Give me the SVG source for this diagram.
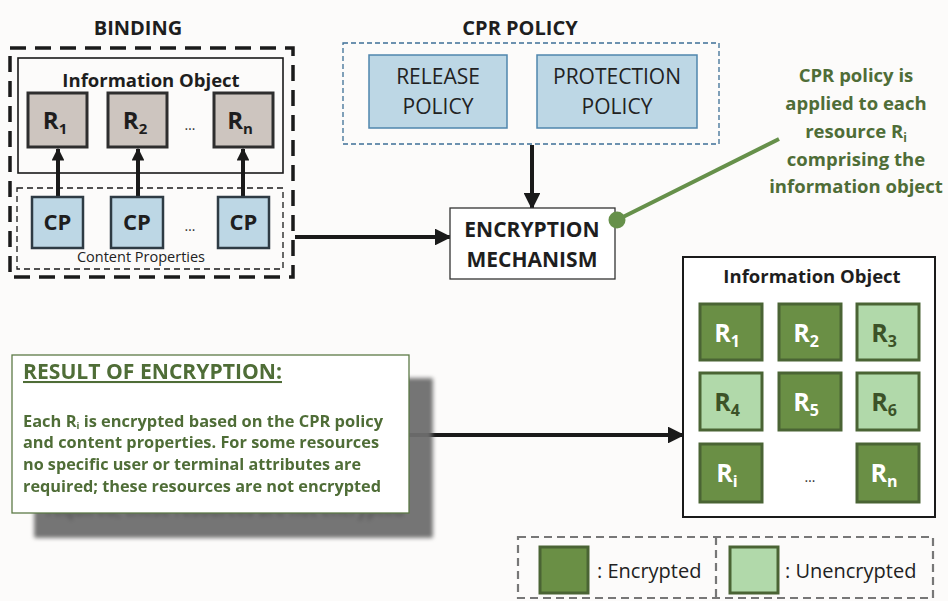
<svg xmlns="http://www.w3.org/2000/svg" width="948" height="601" viewBox="0 0 948 601">
  <defs>
    <style>
      text { font-family: "Open Sans", "Liberation Sans", sans-serif; }
      .title { font-size: 20px; font-weight: bold; fill: #1e1e1e; text-anchor: middle; }
      .io-title { font-size: 18.5px; font-weight: bold; fill: #1e1e1e; text-anchor: middle; }
      .res { fill: #cdc5bf; stroke: #2e2e2e; stroke-width: 3; }
      .res-t { font-size: 24px; font-weight: bold; fill: #1e1e1e; text-anchor: middle; }
      .cp { fill: #bdd7e5; stroke: #2e3b44; stroke-width: 2.5; }
      .cp-t { font-size: 22px; font-weight: bold; fill: #1e1e1e; text-anchor: middle; }
      .pol { fill: #bdd7e5; stroke: #4f86ad; stroke-width: 1.5; }
      .pol-t { font-size: 21px; fill: #222; text-anchor: middle; }
      .enc { fill: #6a8f45; stroke: #4a6434; stroke-width: 3; }
      .unenc { fill: #b1d9aa; stroke: #4a6434; stroke-width: 3; }
      .enc-t { font-size: 25px; font-weight: bold; fill: #ffffff; text-anchor: middle; }
      .unenc-t { font-size: 25px; font-weight: bold; fill: #3c5228; text-anchor: middle; }
      .green { fill: #4f6d37; font-weight: bold; }
      .dots { font-size: 14px; fill: #333; text-anchor: middle; }
      .conn { stroke: #1a1a1a; stroke-width: 4; fill: none; }
      .legend-t { font-size: 20px; fill: #222; }
    </style>
    <marker id="head" viewBox="0 0 10 10" refX="9" refY="5" markerWidth="4.2" markerHeight="4.2" orient="auto" markerUnits="strokeWidth">
      <path d="M0,0 L10,5 L0,10 z" fill="#1a1a1a"/>
    </marker>
    <marker id="headS" viewBox="0 0 10 10" refX="9" refY="5" markerWidth="3.2" markerHeight="3.2" orient="auto" markerUnits="strokeWidth">
      <path d="M0,0 L10,5 L0,10 z" fill="#1a1a1a"/>
    </marker>
    <!-- greyed, offset, softened copy of the result panel used as its shadow -->
    <filter id="panelShadow" x="-10%" y="-10%" width="130%" height="140%" color-interpolation-filters="sRGB">
      <feColorMatrix in="SourceGraphic" type="matrix" values="0.06 0.06 0.06 0 0.25  0.06 0.06 0.06 0 0.25  0.06 0.06 0.06 0 0.25  0 0 0 0.95 0" result="grey"/>
      <feOffset in="grey" dx="23" dy="24" result="off"/>
      <feGaussianBlur in="off" stdDeviation="2.2" result="blur"/>
      <feMerge>
        <feMergeNode in="blur"/>
        <feMergeNode in="SourceGraphic"/>
      </feMerge>
    </filter>
  </defs>

  <rect width="948" height="601" fill="#fcfbfa"/>

  <!-- connectors -->
  <g id="connectors">
    <line class="conn" x1="58" y1="197" x2="58" y2="149" marker-end="url(#headS)"/>
    <line class="conn" x1="138" y1="197" x2="138" y2="149" marker-end="url(#headS)"/>
    <line class="conn" x1="243" y1="197" x2="243" y2="149" marker-end="url(#headS)"/>
    <line class="conn" x1="295" y1="237" x2="450" y2="237" marker-end="url(#head)"/>
    <line class="conn" x1="532" y1="145" x2="532" y2="208" marker-end="url(#head)"/>
    <line class="conn" x1="400" y1="435" x2="683" y2="435" marker-end="url(#head)"/>
  </g>

  <!-- binding: information object with its content properties -->
  <g id="binding">
    <text class="title" x="138" y="35">BINDING</text>
    <rect x="10" y="48" width="283" height="229" fill="none" stroke="#1a1a1a" stroke-width="3.5" stroke-dasharray="16 9"/>
    <rect x="18" y="58" width="265" height="115" fill="none" stroke="#1a1a1a" stroke-width="1.6"/>
    <text class="io-title" x="151" y="87">Information Object</text>
    <rect x="17" y="188" width="266" height="81" fill="none" stroke="#1a1a1a" stroke-width="1.3" stroke-dasharray="6 4"/>
    <text x="141" y="262" font-size="14.5" fill="#222" text-anchor="middle">Content Properties</text>
  </g>
  <g id="r1"><rect class="res" x="28" y="93" width="59" height="54"/><text class="res-t" x="55" y="129">R<tspan font-size="15" dy="5">1</tspan></text></g>
  <g id="r2"><rect class="res" x="108" y="93" width="59" height="54"/><text class="res-t" x="135" y="129">R<tspan font-size="15" dy="5">2</tspan></text></g>
  <text class="dots" x="190" y="130">…</text>
  <g id="rn"><rect class="res" x="214" y="93" width="59" height="54"/><text class="res-t" x="240" y="129">R<tspan font-size="15" dy="5">n</tspan></text></g>
  <g id="cp1"><rect class="cp" x="32" y="197" width="51" height="51"/><text class="cp-t" x="57.5" y="230">CP</text></g>
  <g id="cp2"><rect class="cp" x="111" y="197" width="52" height="51"/><text class="cp-t" x="137" y="230">CP</text></g>
  <text class="dots" x="190" y="231">…</text>
  <g id="cp3"><rect class="cp" x="218" y="197" width="51" height="51"/><text class="cp-t" x="243.5" y="230">CP</text></g>

  <!-- CPR policy -->
  <g id="cpr-policy">
    <text class="title" x="520" y="35">CPR POLICY</text>
    <rect x="343" y="43" width="376" height="101" fill="none" stroke="#3d6f96" stroke-width="1.3" stroke-dasharray="5 3"/>
  </g>
  <g id="release-policy">
    <rect class="pol" x="369" y="55" width="138" height="73"/>
    <text class="pol-t" x="438" y="84">RELEASE</text>
    <text class="pol-t" x="438" y="114">POLICY</text>
  </g>
  <g id="protection-policy">
    <rect class="pol" x="537" y="55" width="160" height="73"/>
    <text class="pol-t" x="617" y="84">PROTECTION</text>
    <text class="pol-t" x="617" y="114">POLICY</text>
  </g>

  <!-- encryption mechanism -->
  <g id="encryption-mechanism">
    <rect x="450" y="208" width="165" height="71" fill="#ffffff" stroke="#333" stroke-width="1.3"/>
    <text x="532" y="237" font-size="21" font-weight="bold" fill="#1e1e1e" text-anchor="middle">ENCRYPTION</text>
    <text x="532" y="267" font-size="21" font-weight="bold" fill="#1e1e1e" text-anchor="middle">MECHANISM</text>
  </g>

  <!-- callout -->
  <g id="callout">
    <line x1="617" y1="220" x2="779" y2="139" stroke="#66904a" stroke-width="4"/>
    <circle cx="617" cy="220" r="8.5" fill="#66904a"/>
    <g class="green" font-size="18.5" text-anchor="middle">
      <text x="856" y="82">CPR policy is</text>
      <text x="856" y="110">applied to each</text>
      <text x="856" y="138">resource R<tspan font-size="12" dy="4">i</tspan></text>
      <text x="856" y="166">comprising the</text>
      <text x="856" y="193">information object</text>
    </g>
  </g>

  <!-- result of encryption panel -->
  <g id="result" filter="url(#panelShadow)">
    <rect x="12" y="355" width="397" height="158" fill="#ffffff" stroke="#5d7a47" stroke-width="1.3"/>
    <text class="green" x="23" y="379" font-size="20.5" text-decoration="underline" textLength="259" lengthAdjust="spacingAndGlyphs">RESULT OF ENCRYPTION:</text>
    <g class="green" font-size="16.5">
      <text x="23" y="427" textLength="360" lengthAdjust="spacingAndGlyphs">Each R<tspan font-size="9.5" dy="1.5">i</tspan><tspan dy="-1.5"> is encrypted based on the CPR policy</tspan></text>
      <text x="23" y="448" textLength="356" lengthAdjust="spacingAndGlyphs">and content properties. For some resources</text>
      <text x="23" y="470" textLength="338" lengthAdjust="spacingAndGlyphs">no specific user or terminal attributes are</text>
      <text x="23" y="492" textLength="358" lengthAdjust="spacingAndGlyphs">required; these resources are not encrypted</text>
    </g>
  </g>

  <!-- encrypted information object -->
  <g id="info-object-encrypted">
    <rect x="683" y="257" width="252" height="260" fill="#ffffff" stroke="#1a1a1a" stroke-width="2"/>
    <text class="io-title" x="812" y="283">Information Object</text>
  </g>
  <g id="e1"><rect class="enc" x="700" y="304" width="62" height="56"/><text class="enc-t" x="727" y="342">R<tspan font-size="16" dy="5">1</tspan></text></g>
  <g id="e2"><rect class="enc" x="779" y="304" width="62" height="56"/><text class="enc-t" x="806" y="342">R<tspan font-size="16" dy="5">2</tspan></text></g>
  <g id="e3"><rect class="unenc" x="857" y="304" width="62" height="56"/><text class="unenc-t" x="884" y="342">R<tspan font-size="16" dy="5">3</tspan></text></g>
  <g id="e4"><rect class="unenc" x="700" y="373" width="62" height="57"/><text class="unenc-t" x="727" y="411">R<tspan font-size="16" dy="5">4</tspan></text></g>
  <g id="e5"><rect class="enc" x="779" y="373" width="62" height="57"/><text class="enc-t" x="806" y="411">R<tspan font-size="16" dy="5">5</tspan></text></g>
  <g id="e6"><rect class="unenc" x="857" y="373" width="62" height="57"/><text class="unenc-t" x="884" y="411">R<tspan font-size="16" dy="5">6</tspan></text></g>
  <g id="ei"><rect class="enc" x="700" y="444" width="62" height="58"/><text class="enc-t" x="727" y="482">R<tspan font-size="16" dy="5">i</tspan></text></g>
  <text class="dots" x="810" y="482">…</text>
  <g id="en"><rect class="enc" x="857" y="444" width="62" height="58"/><text class="enc-t" x="884" y="482">R<tspan font-size="16" dy="5">n</tspan></text></g>

  <!-- legend -->
  <g id="legend">
    <rect x="518" y="537" width="415" height="61" fill="none" stroke="#777" stroke-width="2.2" stroke-dasharray="8 5"/>
    <line x1="716" y1="537" x2="716" y2="598" stroke="#777" stroke-width="2.2" stroke-dasharray="8 5"/>
    <rect class="enc" x="540" y="547" width="48" height="46"/>
    <text class="legend-t" x="597" y="578">: Encrypted</text>
    <rect class="unenc" x="730" y="547" width="48" height="46"/>
    <text class="legend-t" x="785" y="578">: Unencrypted</text>
  </g>
</svg>
